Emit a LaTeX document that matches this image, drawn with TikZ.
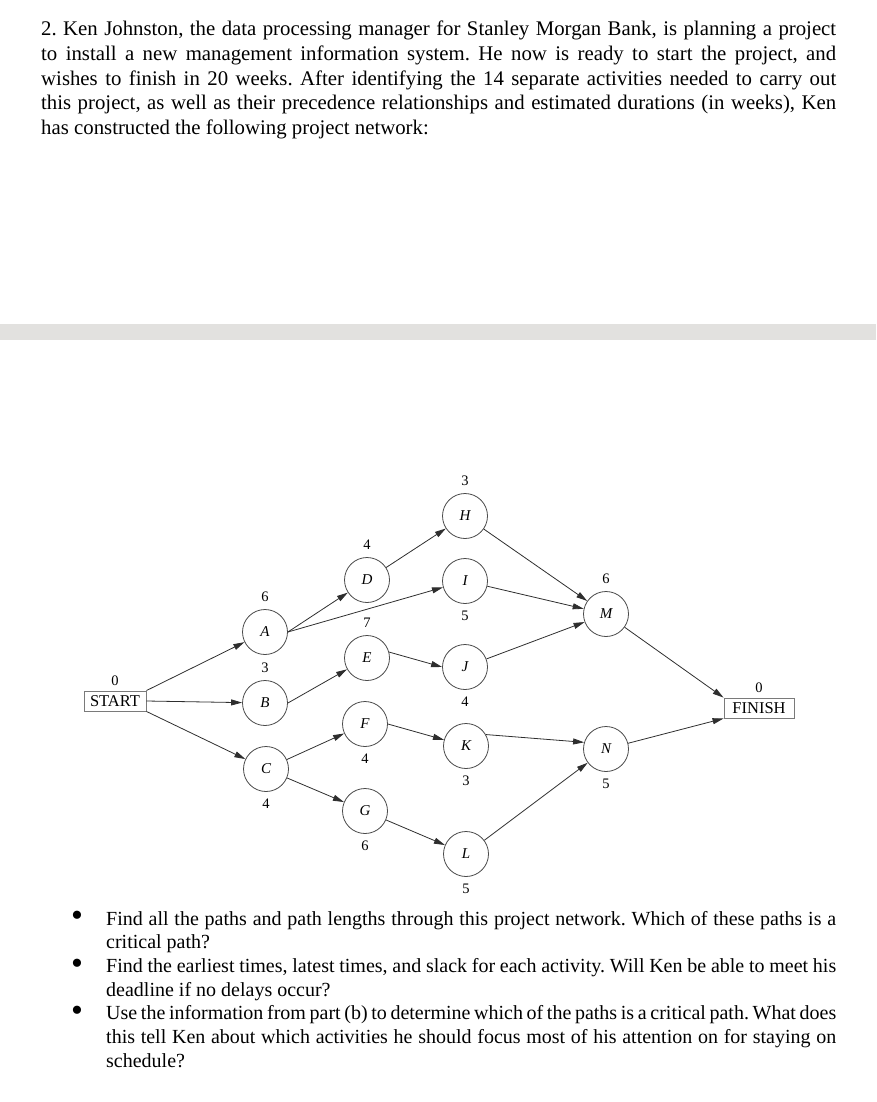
\documentclass[tikz,border=0pt]{standalone}
\usepackage{fontspec}
\setmainfont{Liberation Serif}
\usepackage{tikz}
\usetikzlibrary{arrows.meta}
\definecolor{edgeGray}{HTML}{2E2E2E}
\definecolor{ringGray}{HTML}{4A4A4A}
\definecolor{boxGray}{HTML}{7A7A7A}
\definecolor{barGray}{HTML}{E2E1DF}
\frenchspacing

\begin{document}
\begin{tikzpicture}[
    x=1pt, y=-1pt,
    act/.style={circle, draw=ringGray, line width=0.8pt, minimum size=45pt, inner sep=0pt, font=\fontsize{15}{16}\selectfont\itshape},
    endbox/.style={draw=boxGray, line width=0.9pt, minimum height=20pt, inner sep=1pt, font=\fontsize{16.5}{18}\selectfont},
    dur/.style={font=\fontsize{14.5}{16}\selectfont, inner sep=1pt},
    link/.style={->, draw=edgeGray, line width=0.8pt},
    body/.style={align=justify, inner sep=0pt, anchor=base west},
    qtext/.style={body, text width=730pt, font=\fontsize{20}{23.7}\selectfont,
      execute at begin node={\spaceskip=.25em plus .2em minus .12em\relax}},
    dot/.style={inner sep=0pt, anchor=center, font=\fontsize{34}{34}\selectfont},
    >={Triangle[length=11pt,width=6pt]},
    every label/.style={dur},
    label distance=6pt
  ]
  \useasboundingbox (0,0) rectangle (876,1102);

  \node[body, text width=795pt, font=\fontsize{20.8}{24.6}\selectfont] (intro) at (41,36)
    {2. Ken Johnston, the data processing manager for Stanley Morgan Bank, is planning a project\linebreak
     to install a new management information system. He now is ready to start the project, and\linebreak
     wishes to finish in 20 weeks. After identifying the 14 separate activities needed to carry out\linebreak
     this project, as well as their precedence relationships and estimated durations (in weeks), Ken\linebreak
     has constructed the following project network:};

  \fill[barGray] (0,324) rectangle (876,340);

  \node[endbox, minimum width=62pt, label={[label distance=4pt]above:0}] (start) at (115,701) {START};
  \node[act, label=above:6] (A) at (265,632) {A};
  \node[act, label=above:3] (B) at (265,703) {B};
  \node[act, label=below:4] (C) at (266,769) {C};
  \node[act, label=above:4] (D) at (367,580) {D};
  \node[act, label=above:7] (E) at (367,658) {E};
  \node[act, label=below:4] (F) at (365,724) {F};
  \node[act, label=below:6] (G) at (365,811) {G};
  \node[act, label=above:3] (H) at (465,516) {H};
  \node[act, label=below:5] (I) at (465,581) {I};
  \node[act, label=below:4] (J) at (465,667) {J};
  \node[act, label=below:3] (K) at (466,746) {K};
  \node[act, label=below:5] (L) at (466,854) {L};
  \node[act, label=above:6] (M) at (606,614) {M};
  \node[act, label=below:5] (N) at (606,749) {N};
  \node[endbox, minimum width=70pt, label={[label distance=4pt]above:0}] (finish) at (759,708) {FINISH};

  \draw[link] (start.north east) -- (A);
  \draw[link] (start.east) -- (B);
  \draw[link] (start.south east) -- (C);
  \draw[link] (A.east) -- (D);
  \draw[link] (A.east) -- (I);
  \draw[link] (B.east) -- (E);
  \draw[link] (C) -- (F);
  \draw[link] (C) -- (G);
  \draw[link] (D) -- (H);
  \draw[link] (E.15) -- (J.west);
  \draw[link] (F.east) -- (K);
  \draw[link] (G) -- (L);
  \draw[link] (H) -- (M);
  \draw[link] (I) -- (M);
  \draw[link] (J) -- (M);
  \draw[link] (K.30) -- (N.163);
  \draw[link] (L) -- (N);
  \draw[link] (M) -- (finish.north west);
  \draw[link] (N) -- (finish.south west);

  \node[dot] (dot1) at (77,919) {\textbullet};
  \node[dot] (dot2) at (77,966.4) {\textbullet};
  \node[dot] (dot3) at (77,1013.8) {\textbullet};

  \node[qtext] (q1) at (106,925)
    {Find all the paths and path lengths through this project network. Which of these paths is a\linebreak
     critical path?};
  \node[qtext] (q2) at (106,972.4)
    {Find the earliest times, latest times, and slack for each activity. Will Ken be able to meet his\linebreak
     deadline if no delays occur?};
  \node[qtext] (q3) at (106,1019.8)
    {Use the information from part (b) to determine which of the paths is a critical path. What does\linebreak
     this tell Ken about which activities he should focus most of his attention on for staying on\linebreak
     schedule?};
\end{tikzpicture}
\end{document}
